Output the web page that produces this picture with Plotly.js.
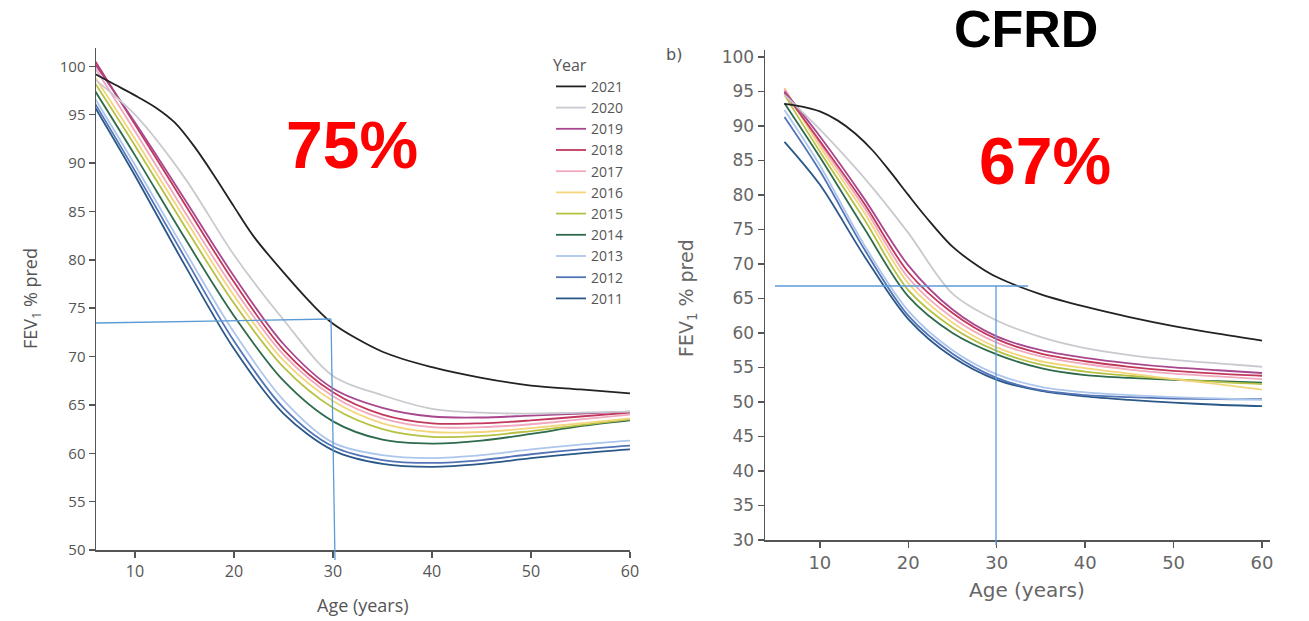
<!DOCTYPE html>
<html>
<head>
<meta charset="utf-8">
<script src="https://cdn.plot.ly/plotly-3.0.1.min.js"></script>
<style>html,body{margin:0;padding:0;background:#fff;}#chart{width:1309px;height:621px;}</style>
</head>
<body>
<div id="chart"></div>
<script>
// ---- Data ----
const ages = [6, 10, 15, 20, 25, 30, 35, 40, 45, 50, 55, 60];
const ages2021 = [6, 8, 10, 12, 14, 16, 18, 20, 22, 25, 28, 30, 35, 40, 45, 50, 55, 60];
const years = ["2021","2020","2019","2018","2017","2016","2015","2014","2013","2012","2011"];
const colors = ["#222222","#c9c9cf","#a8478e","#c2385c","#f0a9bd","#f3d67c","#b7c244","#2e6a4c","#adc6ec","#5474b8","#2a5888"];

// Panel a (all)
const a2021 = [99.2, 98.1, 97.0, 95.8, 94.2, 91.7, 88.7, 85.5, 82.4, 78.7, 75.3, 73.4, 70.5, 68.9, 67.8, 67.0, 66.6, 66.2];
const a2020 = [98.6, 95.0, 88.5, 80.5, 73.8, 68.0, 66.0, 64.6, 64.2, 64.1, 64.2, 64.3];
const a2019 = [100.2, 94.2, 86.3, 78.3, 71.3, 66.7, 64.7, 63.8, 63.7, 63.9, 64.1, 64.3];
const a2018 = [100.5, 94.0, 85.8, 77.7, 70.7, 66.3, 64.0, 63.1, 63.1, 63.4, 63.8, 64.2];
const a2017 = [99.8, 93.3, 85.0, 77.0, 70.2, 65.9, 63.6, 62.7, 62.7, 63.0, 63.5, 64.0];
const a2016 = [98.8, 92.5, 84.3, 76.3, 69.6, 65.4, 63.1, 62.2, 62.2, 62.6, 63.1, 63.6];
const a2015 = [98.2, 91.8, 83.5, 75.5, 68.9, 64.7, 62.5, 61.7, 61.8, 62.3, 62.9, 63.5];
const a2014 = [97.4, 90.8, 82.3, 74.2, 67.5, 63.3, 61.4, 61.0, 61.3, 62.0, 62.8, 63.4];
const a2013 = [96.6, 89.8, 81.0, 72.5, 65.5, 61.1, 59.8, 59.5, 59.8, 60.4, 60.9, 61.3];
const a2012 = [96.1, 89.2, 80.3, 71.6, 64.7, 60.7, 59.3, 59.0, 59.3, 59.9, 60.4, 60.8];
const a2011 = [95.7, 88.7, 79.5, 70.8, 64.1, 60.3, 58.9, 58.6, 58.9, 59.5, 60.0, 60.4];

// Panel b (CFRD)
const b2021 = [93.2, 92.8, 92.1, 90.8, 88.9, 86.4, 83.3, 80.0, 76.8, 72.5, 69.6, 68.1, 65.6, 63.8, 62.3, 61.0, 59.9, 58.9];
const b2020 = [94.5, 89.5, 82.5, 74.5, 65.7, 61.8, 59.4, 57.8, 56.8, 56.1, 55.6, 55.1];
const b2019 = [95.0, 88.5, 79.5, 69.8, 63.4, 59.5, 57.5, 56.4, 55.6, 55.0, 54.6, 54.2];
const b2018 = [94.8, 87.8, 78.8, 68.8, 62.9, 59.1, 57.0, 55.9, 55.1, 54.5, 54.1, 53.8];
const b2017 = [95.3, 87.5, 78.2, 68.0, 62.2, 58.6, 56.6, 55.5, 54.7, 54.1, 53.7, 53.3];
const b2016 = [95.5, 87.0, 77.5, 67.2, 61.5, 57.9, 55.9, 54.9, 54.1, 53.3, 52.6, 51.8];
const b2015 = [94.5, 86.3, 76.5, 66.2, 60.8, 57.4, 55.4, 54.4, 53.8, 53.3, 52.9, 52.6];
const b2014 = [93.3, 85.5, 75.2, 65.3, 60.0, 56.9, 54.9, 53.9, 53.5, 53.2, 53.0, 52.8];
const b2013 = [92.3, 84.3, 72.8, 63.2, 57.5, 54.0, 52.2, 51.4, 51.0, 50.7, 50.5, 50.3];
const b2012 = [91.3, 83.5, 72.2, 62.5, 57.0, 53.5, 51.7, 51.0, 50.7, 50.5, 50.4, 50.4];
const b2011 = [87.7, 81.5, 71.2, 62.0, 56.5, 53.2, 51.6, 50.8, 50.3, 49.9, 49.6, 49.4];

const seriesA = [a2021,a2020,a2019,a2018,a2017,a2016,a2015,a2014,a2013,a2012,a2011];
const seriesB = [b2021,b2020,b2019,b2018,b2017,b2016,b2015,b2014,b2013,b2012,b2011];

const xTicks = [10, 20, 30, 40, 50, 60];
const yTicksA = [50, 55, 60, 65, 70, 75, 80, 85, 90, 95, 100];
const yTicksB = [30, 35, 40, 45, 50, 55, 60, 65, 70, 75, 80, 85, 90, 95, 100];

// ---- Traces ----
const traces = [];
for (let i = years.length - 1; i >= 0; i--) {
  traces.push({
    x: i === 0 ? ages2021 : ages, y: seriesA[i], xaxis: 'x', yaxis: 'y', type: 'scatter', mode: 'lines',
    name: years[i], legendrank: i + 1,
    line: {color: colors[i], width: 1.8, shape: 'spline', smoothing: 0.9},
    hoverinfo: 'skip'
  });
}
for (let i = years.length - 1; i >= 0; i--) {
  traces.push({
    x: i === 0 ? ages2021 : ages, y: seriesB[i], xaxis: 'x2', yaxis: 'y2', type: 'scatter', mode: 'lines',
    name: years[i], showlegend: false,
    line: {color: colors[i], width: 1.8, shape: 'spline', smoothing: 0.9},
    hoverinfo: 'skip'
  });
}

const W = 1309, H = 621;
const px = v => v / W;
const py = v => 1 - v / H;

const axisCommon = {
  showgrid: false, zeroline: false, showline: true, linecolor: '#555', linewidth: 1.5,
  ticks: 'outside', ticklen: 6, tickcolor: '#555', tickwidth: 1.5
};

const blue = {color: '#5b9bd5', width: 1.3};

const layout = {
  width: W, height: H,
  margin: {l: 0, r: 0, t: 0, b: 0},
  paper_bgcolor: '#fff', plot_bgcolor: '#fff',
  showlegend: true,
  xaxis: Object.assign({}, axisCommon, {
    domain: [px(96), px(630)], range: [6.06, 60], tickvals: xTicks,
    tickfont: {family: 'Open Sans', size: 16, color: '#555'}, anchor: 'y'
  }),
  yaxis: Object.assign({}, axisCommon, {
    domain: [py(550), py(48)], range: [50, 101.9], tickvals: yTicksA,
    tickfont: {family: 'Open Sans', size: 15, color: '#555'}, anchor: 'x'
  }),
  xaxis2: Object.assign({}, axisCommon, {
    domain: [px(765), px(1270)], range: [3.8, 60.9], tickvals: xTicks,
    tickfont: {family: 'DejaVu Sans', size: 18, color: '#666'}, anchor: 'y2'
  }),
  yaxis2: Object.assign({}, axisCommon, {
    domain: [py(540), py(50)], range: [30, 101], tickvals: yTicksB,
    tickfont: {family: 'DejaVu Sans', size: 17, color: '#666'}, anchor: 'x2'
  }),
  legend: {
    x: px(551), y: py(50), xanchor: 'left', yanchor: 'top',
    title: {text: 'Year', font: {family: 'Open Sans', size: 16, color: '#555'}},
    font: {family: 'Open Sans', size: 14, color: '#555'},
    bgcolor: 'rgba(0,0,0,0)', tracegroupgap: 0, itemwidth: 30
  },
  annotations: [
    {xref: 'paper', yref: 'paper', x: px(352), y: py(145), text: '75%', showarrow: false,
     font: {family: 'Liberation Sans', size: 66, color: '#ff0000', weight: 'bold'}, xanchor: 'center', yanchor: 'middle'},
    {xref: 'paper', yref: 'paper', x: px(1045), y: py(161), text: '67%', showarrow: false,
     font: {family: 'Liberation Sans', size: 66, color: '#ff0000', weight: 'bold'}, xanchor: 'center', yanchor: 'middle'},
    {xref: 'paper', yref: 'paper', x: px(1026), y: py(29), text: 'CFRD', showarrow: false,
     font: {family: 'Liberation Sans', size: 52, color: '#000', weight: 'bold'}, xanchor: 'center', yanchor: 'middle'},
    {xref: 'paper', yref: 'paper', x: px(674), y: py(55), text: 'b)', showarrow: false,
     font: {family: 'DejaVu Sans', size: 16, color: '#555'}, xanchor: 'center', yanchor: 'middle'},
    {xref: 'paper', yref: 'paper', x: px(31), y: py(298), text: 'FEV<sub>1</sub> % pred', showarrow: false, textangle: -90,
     font: {family: 'Open Sans', size: 18, color: '#555'}, xanchor: 'center', yanchor: 'middle'},
    {xref: 'paper', yref: 'paper', x: px(363), y: py(605), text: 'Age (years)', showarrow: false,
     font: {family: 'Open Sans', size: 18, color: '#555'}, xanchor: 'center', yanchor: 'middle'},
    {xref: 'paper', yref: 'paper', x: px(687), y: py(298), text: 'FEV<sub>1</sub> % pred', showarrow: false, textangle: -90,
     font: {family: 'DejaVu Sans', size: 19, color: '#666'}, xanchor: 'center', yanchor: 'middle'},
    {xref: 'paper', yref: 'paper', x: px(1027), y: py(590), text: 'Age (years)', showarrow: false,
     font: {family: 'DejaVu Sans', size: 20, color: '#666'}, xanchor: 'center', yanchor: 'middle'}
  ],
  shapes: [
    {type: 'line', xref: 'paper', yref: 'paper', x0: px(96), y0: py(323), x1: px(331), y1: py(319), line: blue},
    {type: 'line', xref: 'paper', yref: 'paper', x0: px(331), y0: py(319), x1: px(335), y1: py(560), line: blue},
    {type: 'line', xref: 'paper', yref: 'paper', x0: px(775), y0: py(286), x1: px(1028), y1: py(286), line: blue},
    {type: 'line', xref: 'paper', yref: 'paper', x0: px(996), y0: py(286), x1: px(996), y1: py(545), line: blue}
  ]
};

Plotly.newPlot('chart', traces, layout, {displayModeBar: false, staticPlot: true});
</script>
</body>
</html>
